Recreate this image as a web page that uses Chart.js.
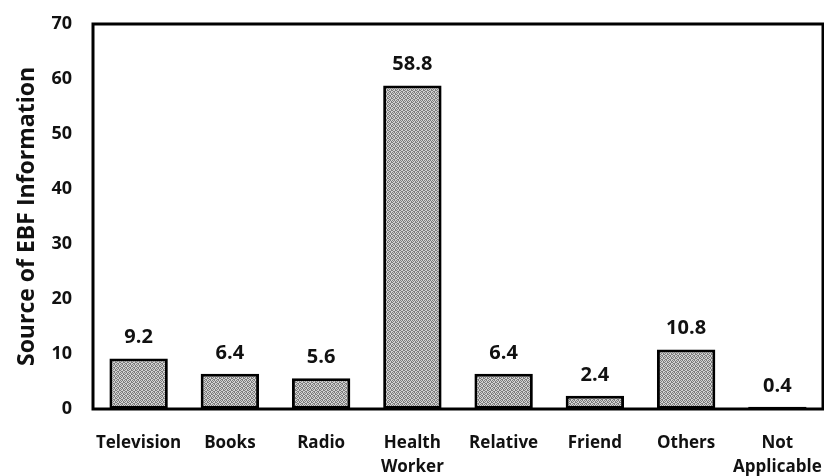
<!DOCTYPE html>
<html>
<head>
<meta charset="utf-8">
<script src="https://cdn.jsdelivr.net/npm/chart.js@4.4.1/dist/chart.umd.min.js"></script>
<style>
  html, body { margin: 0; padding: 0; background: #fff; }
  #wrap { width: 824px; height: 476px; }
</style>
</head>
<body>
<div id="wrap"><canvas id="c" width="824" height="476"></canvas></div>
<script>
const categories = ['Television', 'Books', 'Radio', ['Health', 'Worker'], 'Relative', 'Friend', 'Others', ['Not', 'Applicable']];
const sourceShare = [9.2, 6.4, 5.6, 58.8, 6.4, 2.4, 10.8, 0.4];
const yTicks = [0, 10, 20, 30, 40, 50, 60, 70];
const yTitle = 'Source of EBF Information';

const FONT = "'Open Sans', 'Liberation Sans', sans-serif";

// fine dithered grey fill for the bars
function ditherPattern() {
  const p = document.createElement('canvas');
  p.width = 4; p.height = 4;
  const g = p.getContext('2d');
  g.fillStyle = '#d2d2d2'; g.fillRect(0, 0, 4, 4);
  g.fillStyle = '#7c7c7c';
  [[0, 0], [2, 0], [1, 1], [3, 1], [0, 2], [3, 2], [1, 3], [2, 3]].forEach(([x, y]) => g.fillRect(x, y, 1, 1));
  return g.createPattern(p, 'repeat');
}
const ctx = document.getElementById('c').getContext('2d');

const frameAndLabels = {
  id: 'frameAndLabels',
  afterDatasetsDraw(chart) {
    const { ctx, chartArea: a } = chart;
    ctx.save();
    ctx.strokeStyle = '#000';
    ctx.lineWidth = 3;
    ctx.strokeRect(a.left, a.top, a.right - a.left, a.bottom - a.top);
    const meta = chart.getDatasetMeta(0);
    ctx.fillStyle = '#111';
    ctx.font = 'bold 20px ' + FONT;
    ctx.textAlign = 'center';
    ctx.textBaseline = 'middle';
    meta.data.forEach((bar, i) => {
      ctx.fillText(sourceShare[i].toFixed(1), bar.x, bar.y - 21);
    });
    ctx.restore();
  }
};

new Chart(ctx, {
  type: 'bar',
  data: {
    labels: categories,
    datasets: [{
      data: sourceShare,
      backgroundColor: ditherPattern(),
      borderColor: '#000',
      borderWidth: 3,
      borderSkipped: false,
      categoryPercentage: 1,
      barPercentage: 0.64
    }]
  },
  options: {
    responsive: false,
    animation: false,
    layout: { padding: { top: 24, right: 1, left: 0, bottom: 0 } },
    plugins: { legend: { display: false }, tooltip: { enabled: false } },
    scales: {
      x: {
        grid: { display: false, drawTicks: false },
        border: { display: false },
        ticks: { color: '#111', font: { family: FONT, size: 17, weight: 'bold', lineHeight: 1.4 }, padding: 22, maxRotation: 0, autoSkip: false },
        afterFit(s) { s.height = 67; s.paddingLeft = 0; s.paddingRight = 0; }
      },
      y: {
        min: 0, max: 70,
        afterBuildTicks(s) { s.ticks = yTicks.map(v => ({ value: v })); },
        grid: { display: false, drawTicks: false },
        border: { display: false },
        ticks: { color: '#111', font: { family: FONT, size: 18, weight: 'bold' }, padding: 21 },
        title: { display: true, text: yTitle, color: '#111', font: { family: FONT, size: 23, weight: 'bold' }, padding: { top: 14, bottom: 0 } },
        afterFit(s) { s.width = 93; s.paddingTop = 0; s.paddingBottom = 0; }
      }
    }
  },
  plugins: [frameAndLabels]
});
</script>
</body>
</html>
